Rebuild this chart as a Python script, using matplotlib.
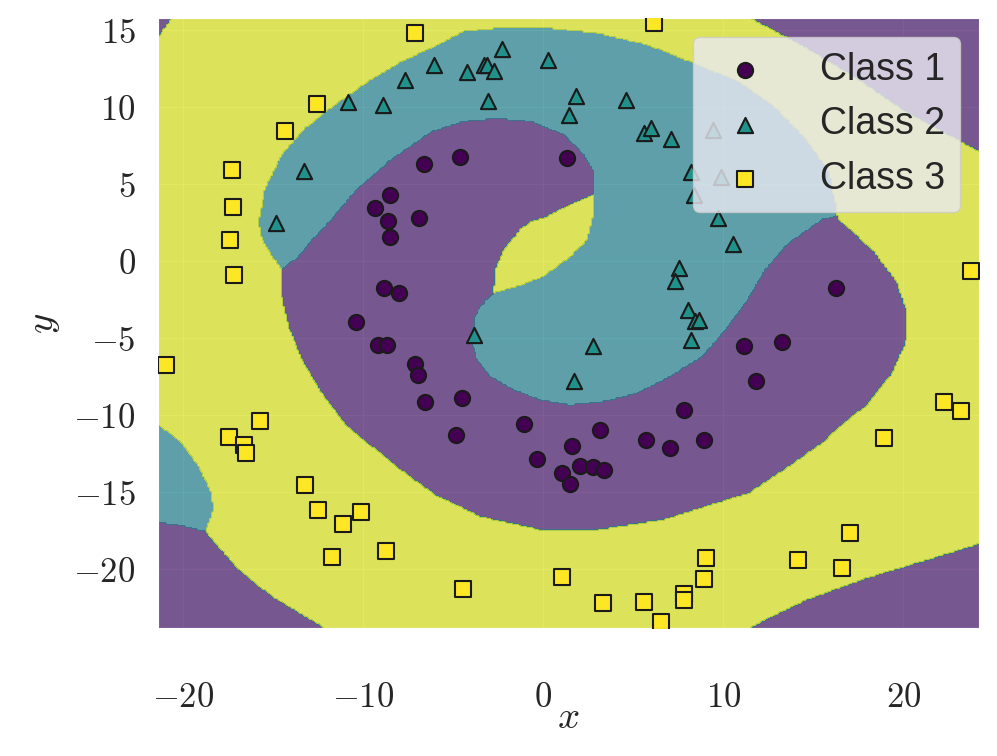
import numpy as np
import matplotlib
matplotlib.use('Agg')
import matplotlib.pyplot as plt
import seaborn as sns
from matplotlib.path import Path

sns.set_style('darkgrid')
plt.rcParams['font.family'] = ['Liberation Sans', 'DejaVu Sans']
plt.rcParams['mathtext.fontset'] = 'cm'

# ---------------- data points ----------------
class1_x = [-6.63, -4.65, 1.32, -8.54, -9.37, -8.65, -6.93, -8.54, -8.85, -8.02, -10.41, -9.18,
            -8.68, -7.15, -6.94, -6.56, -4.52, -4.83, -1.09, -0.35, 1.59, 3.17, 2.06, 2.76, 3.37,
            1.02, 1.46, 5.72, 7.06, 7.79, 8.94, 11.15, 11.79, 13.24, 16.28]
class1_y = [6.30, 6.78, 6.73, 4.31, 3.47, 2.61, 2.84, 1.58, -1.73, -2.05, -3.94, -5.43,
            -5.43, -6.66, -7.36, -9.16, -8.87, -11.30, -10.54, -12.81, -11.97, -10.93, -13.31, -13.35, -13.53,
            -13.74, -14.48, -11.58, -12.14, -9.68, -11.62, -5.49, -7.75, -5.23, -1.73]

class2_x = [-6.09, -7.67, -10.85, -8.91, -13.28, -14.83, -2.29, -4.24, -3.32, -3.13, -2.76, 0.24,
            -3.09, 1.82, 1.41, 4.61, 5.57, 6.00, 7.09, 8.22, 8.35, 9.41, 9.87, 9.72, 10.56, 7.56,
            7.33, 8.04, 8.41, 8.63, 8.22, -3.87, 2.76, 1.72]
class2_y = [12.77, 11.80, 10.35, 10.18, 5.84, 2.49, 13.81, 12.30, 12.77, 12.73, 12.34, 13.05,
            10.39, 10.71, 9.53, 10.50, 8.34, 8.66, 7.97, 5.81, 4.29, 8.55, 5.45, 2.84, 1.15, -0.43,
            -1.30, -3.14, -3.90, -3.79, -5.08, -4.76, -5.47, -7.75]

class3_x = [-7.11, -12.57, -14.37, -17.29, -17.26, 6.13, -17.41, -17.17, -20.96, -15.71, -17.44, -16.61,
            -16.50, -13.22, -12.52, -10.11, -11.13, -8.74, -11.72, -4.48, 1.04, 3.29, 5.57, 7.83, 7.79,
            6.54, 9.06, 8.94, 18.94, 17.06, 14.13, 16.59, 23.78, 22.28, 23.22]
class3_y = [14.83, 10.22, 8.44, 5.91, 3.51, 15.45, 1.36, -0.86, -6.71, -10.39, -11.43, -11.90,
            -12.44, -14.49, -16.12, -16.30, -17.03, -18.77, -19.19, -21.25, -20.49, -22.18, -22.08, -21.58, -21.97,
            -23.44, -19.26, -20.62, -11.47, -17.64, -19.37, -19.91, -0.65, -9.13, -9.69]

labels = ['Class 1', 'Class 2', 'Class 3']
xticks = [-20, -10, 0, 10, 20]
yticks = [-20, -15, -10, -5, 0, 5, 10, 15]

# ---------------- decision-region boundaries ----------------
teal_outer_x = [-14.52, -15.07, -15.63, -15.82, -15.44, -14.52, -13.22, -11.56, -9.71, -7.85, -6.0, -4.43,
                -2.21, 0.21, 2.98, 5.76, 8.54, 10.85, 12.71, 14.56, 15.85, 16.22, 16.31]
teal_outer_y = [-0.54, 0.32, 1.41, 2.58, 4.77, 6.93, 8.66, 10.18, 11.69, 12.99, 13.96, 14.94,
                15.19, 15.16, 14.83, 14.07, 12.77, 11.69, 10.18, 8.01, 5.84, 3.90, 2.97]
purple_outer_x = [-14.52, -14.52, -14.15, -13.41, -12.29, -10.91, -9.52, -7.67, -6.0, -3.5, -0.17, 2.98,
                  6.68, 9.28, 11.41, 13.63, 15.48, 16.87, 17.89, 19.37, 20.11, 20.21, 19.56, 18.26, 16.41, 16.31]
purple_outer_y = [-0.54, -2.27, -4.22, -6.38, -8.55, -10.71, -12.01, -13.74, -15.15, -16.56, -17.42, -17.42,
                  -16.77, -15.8, -15.04, -13.31, -11.79, -10.28, -9.42, -7.25, -5.30, -3.35, -1.19, 0.76, 2.71, 2.97]
teal_inner_x = [16.31, 15.48, 13.63, 12.33, 11.22, 10.11, 9.0, 8.54, 7.06, 5.21, 3.35, 1.5, -0.17,
                -1.65, -2.94, -3.68, -3.96, -3.87, -3.5, -2.76]
teal_inner_y = [2.97, 2.71, 1.19, -0.54, -2.70, -4.45, -5.95, -6.38, -7.47, -8.55, -9.09, -9.31, -8.98,
                -8.33, -7.47, -6.38, -5.30, -3.79, -2.92, -2.05]
hole_bottom_x = [-2.76, -1.46, 0.02, 1.5, 2.43, 2.71, 2.79]
hole_bottom_y = [-2.05, -1.62, -0.97, 0.32, 1.41, 2.71, 4.33]
hole_top_x = [-2.76, -2.67, -2.21, -1.28, -0.72, 0.02, 1.5, 2.79]
hole_top_y = [-2.05, -0.54, 0.76, 2.06, 2.58, 2.82, 3.68, 4.33]
purple_upper_x = [2.79, 2.79, 2.79, 2.24, 1.13, -0.72, -2.57, -4.43, -6.17, -8.59, -10.44, -12.02,
                  -12.67, -13.59, -14.52]
purple_upper_y = [4.33, 4.77, 5.84, 6.93, 8.23, 9.09, 9.27, 9.09, 8.44, 6.49, 4.55, 2.38,
                  1.62, 0.32, -0.54]
left_teal_x = [-22.5, -21.37, -20.07, -19.15, -18.5, -18.32, -18.5, -18.78, -20.07, -21.37, -22.5]
left_teal_y = [-9.9, -10.6, -11.79, -13.31, -14.82, -16.01, -16.77, -17.53, -17.16, -16.95, -16.9]
bl_purple_x = [-22.5, -21.37, -20.07, -18.78, -16.93, -15.07, -12.29, -11.4, -22.5]
bl_purple_y = [-16.9, -16.95, -17.16, -17.53, -20.02, -21.75, -23.7, -25.0, -25.0]
br_purple_x = [9.5, 11.41, 12.71, 14.56, 16.41, 18.26, 21.04, 24.22, 25.5, 25.5]
br_purple_y = [-25.0, -23.85, -23.05, -22.0, -21.2, -20.45, -19.48, -18.33, -17.9, -25.0]
tr_purple_x = [9.6, 11.5, 14.56, 17.33, 20.11, 24.22, 25.5, 25.5]
tr_purple_y = [17.0, 15.82, 13.88, 11.93, 9.72, 7.12, 6.3, 17.0]
tl_purple_x = [-22.5, -19.88, -22.5]
tl_purple_y = [17.0, 17.0, 12.8]

region_colors = ['#471967', '#23808b', '#d7e01a']
point_colors = ['#440154', '#21918c', '#fde725']

# ---------------- rasterize regions ----------------
gx = np.linspace(-21.4, 24.2, 470)
gy = np.linspace(-23.8, 15.8, 410)
XX, YY = np.meshgrid(gx, gy)
pts = np.column_stack([XX.ravel(), YY.ravel()])
Z = np.full(XX.size, 2.0)


def paint(xs, ys, val):
    m = Path(np.column_stack([xs, ys])).contains_points(pts)
    Z[m] = val


spiral_x = teal_outer_x + purple_outer_x[::-1]
spiral_y = teal_outer_y + purple_outer_y[::-1]
paint(spiral_x, spiral_y, 0)
arm_x = teal_outer_x + teal_inner_x + hole_bottom_x + purple_upper_x
arm_y = teal_outer_y + teal_inner_y + hole_bottom_y + purple_upper_y
paint(arm_x, arm_y, 1)
paint(hole_bottom_x + hole_top_x[::-1], hole_bottom_y + hole_top_y[::-1], 2)
paint(left_teal_x, left_teal_y, 1)
paint(bl_purple_x, bl_purple_y, 0)
paint(br_purple_x, br_purple_y, 0)
paint(tr_purple_x, tr_purple_y, 0)
paint(tl_purple_x, tl_purple_y, 0)
Z = Z.reshape(XX.shape)

fig = plt.figure(figsize=(9.97, 7.56), dpi=100)
ax = fig.add_axes([0.1585, 0.1693, 0.8235, 0.807])
ax.contourf(XX, YY, Z, levels=[-0.5, 0.5, 1.5, 2.5], colors=region_colors, alpha=0.7)

markers = ['o', '^', 's']
for xs, ys, mk, col, lab in zip([class1_x, class2_x, class3_x], [class1_y, class2_y, class3_y],
                                markers, point_colors, labels):
    ax.scatter(xs, ys, marker=mk, s=120, c=col, edgecolors='#1a1a1a', linewidths=1.5,
               label=lab, zorder=3)

ax.set_xlim(-21.4, 24.2)
ax.set_ylim(-23.8, 15.8)
ax.set_xticks(xticks, [f'${v}$' for v in xticks])
ax.set_yticks(yticks, [f'${v}$' for v in yticks])
ax.tick_params(axis='both', labelsize=25, length=0)
ax.tick_params(axis='x', pad=38)
ax.tick_params(axis='y', pad=16)
ax.set_xlabel('$x$', fontsize=28, labelpad=-10)
ax.set_ylabel('$y$', fontsize=28, labelpad=8)
ax.legend(loc='upper right', fontsize=27, handletextpad=1.0)

fig.savefig('out.png', dpi=100)
